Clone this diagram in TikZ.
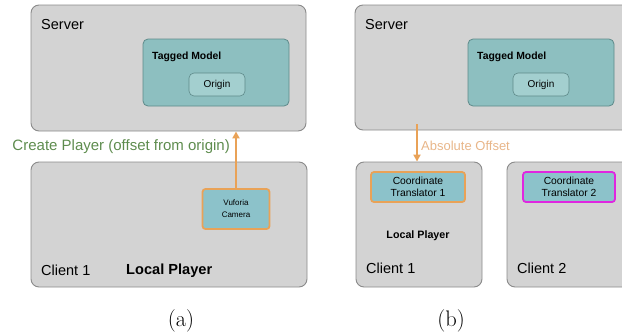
\documentclass[tikz,border=0pt]{standalone}
\usepackage{fontspec}
\setmainfont{Liberation Sans}
\newfontfamily\capfont{Latin Modern Roman}
\usetikzlibrary{arrows.meta}

\definecolor{panelgrey}{HTML}{D3D3D3}
\definecolor{paneledge}{HTML}{8A8A8A}
\definecolor{tealfill}{HTML}{8DBFC0}
\definecolor{tealedge}{HTML}{5E8A8A}
\definecolor{originfill}{HTML}{A3CFCF}
\definecolor{camfill}{HTML}{8CC2CA}
\definecolor{linkorange}{HTML}{E9A257}
\definecolor{labelorange}{HTML}{E8B689}
\definecolor{labelgreen}{HTML}{5E8C4E}
\definecolor{peermagenta}{HTML}{E026E0}

\tikzset{
  panel/.style={draw=paneledge, fill=panelgrey, line width=0.9pt, rounded corners=8pt, inner sep=0pt},
  modelbox/.style={draw=tealedge, fill=tealfill, line width=0.8pt, rounded corners=5pt, inner sep=0pt},
  originbox/.style={draw=tealedge, fill=originfill, line width=0.6pt, rounded corners=5pt, inner sep=0pt, font=\fontsize{10}{12}\selectfont},
  devicebox/.style={fill=camfill, line width=1.8pt, rounded corners=3pt, inner sep=0pt, align=center},
  link/.style={draw=linkorange, line width=2pt, -{Triangle[length=7pt,width=7pt]}},
  paneltitle/.style={anchor=west, inner sep=0pt, font=\fontsize{14.5}{17}\selectfont},
  boldtitle/.style={inner sep=0pt, font=\fontsize{10.4}{12}\selectfont\bfseries},
  caption/.style={inner sep=0pt, font=\capfont\fontsize{22.5}{26}\selectfont},
}

\begin{document}
\begin{tikzpicture}[x=1pt, y=-1pt]
\useasboundingbox (0,0) rectangle (622,335);
\clip (0,0) rectangle (622,335);

% ---- panel (a): local player creation ----
\node[panel, minimum width=275pt, minimum height=126pt] (srvA) at (168.5,68) {};
\node[paneltitle] (srvAtitle) at (41,25) {Server};
\node[modelbox, minimum width=146pt, minimum height=67pt] (tagA) at (216,72.5) {};
\node[boldtitle, anchor=west] (tagAtitle) at (152,57) {Tagged Model};
\node[originbox, minimum width=56pt, minimum height=23pt] (orgA) at (217,84.5) {Origin};

\node[panel, minimum width=276pt, minimum height=125pt] (cliA) at (169,224.5) {};
\node[devicebox, draw=linkorange, minimum width=67pt, minimum height=40pt, font=\fontsize{8}{12}\selectfont] (cam) at (236,209) {Vuforia\\Camera};
\node[paneltitle] (cliAtitle) at (41,270) {Client 1};
\node[anchor=west, inner sep=0pt, font=\fontsize{14.6}{17}\selectfont\bfseries] (localA) at (126,271) {Local Player};

\draw[link] (cam.north) -- (cam.north |- srvA.south);
\node[anchor=east, inner sep=0pt, text=labelgreen, font=\fontsize{15}{18}\selectfont] (createlbl) at (230,147) {Create Player (offset from origin)};

\node[caption] (capA) at (181,321) {(a)};

% ---- panel (b): remote client offsets ----
\node[panel, minimum width=285pt, minimum height=125pt] (srvB) at (497.5,67.5) {};
\node[paneltitle] (srvBtitle) at (365,25) {Server};
\node[modelbox, minimum width=146pt, minimum height=67pt] (tagB) at (541,72.5) {};
\node[boldtitle, anchor=west] (tagBtitle) at (477,57) {Tagged Model};
\node[originbox, minimum width=56pt, minimum height=23pt] (orgB) at (541,84.5) {Origin};

\node[panel, minimum width=126pt, minimum height=125pt] (cliB1) at (419,224.5) {};
\node[devicebox, draw=linkorange, minimum width=94pt, minimum height=30pt, font=\fontsize{10.3}{12}\selectfont] (ct1) at (418,187) {Coordinate\\Translator 1};
\node[inner sep=0pt, font=\fontsize{10.7}{12}\selectfont\bfseries] (localB) at (418,236) {Local Player};
\node[paneltitle] (cliB1title) at (366,268) {Client 1};

\node[panel, minimum width=133pt, minimum height=125pt] (cliB2) at (573.5,224.5) {};
\node[devicebox, draw=peermagenta, minimum width=92pt, minimum height=30pt, font=\fontsize{10.3}{12}\selectfont] (ct2) at (569,187) {Coordinate\\Translator 2};
\node[paneltitle] (cliB2title) at (517,268) {Client 2};

\coordinate (offTop) at (417,124);
\draw[link] (offTop) -- (offTop |- cliB1.north);
\node[anchor=west, inner sep=0pt, text=labelorange, font=\fontsize{13}{15}\selectfont] (offlbl) at (421,146) {Absolute Offset};

\node[caption] (capB) at (451,321) {(b)};
\end{tikzpicture}
\end{document}
